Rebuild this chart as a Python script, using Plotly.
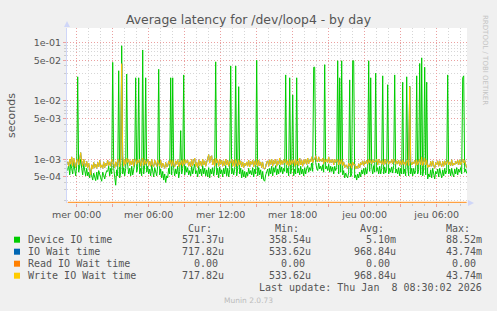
import numpy as np
import pandas as pd
import plotly.graph_objects as go

# ---------------- data (5-minute samples, microseconds) ----------------
start_time = "2026-01-06 23:15:00"

device_io_us = [
    640,820,540,860,690,560,900,650,520,780,26000,600,880,1000,700,540,820,620,520,700,
    520,600,480,640,500,440,580,520,430,600,450,640,520,480,420,600,540,460,560,640,
    620,760,520,700,560,46000,700,480,359,660,520,33000,480,600,88500,560,720,520,700,29000,
    800,560,700,520,760,540,680,820,25000,600,740,25000,560,700,520,75000,560,780,25000,600,
    760,560,680,520,800,560,500,720,620,520,760,35000,540,680,480,620,440,560,400,520,
    480,700,560,25000,540,25000,700,520,680,560,760,480,620,3100,560,700,28000,540,760,600,
    720,540,640,520,760,560,700,820,560,640,500,760,560,680,520,780,560,700,520,660,
    500,720,480,680,560,720,520,680,47000,540,700,480,740,560,660,500,700,560,780,520,
    700,500,660,40000,560,700,540,680,40000,520,700,17600,560,700,480,660,500,620,480,600,
    520,700,560,640,540,720,500,680,560,50000,520,720,540,660,460,620,440,420,540,620,
    680,520,700,560,760,520,720,600,780,540,680,560,800,600,740,560,700,620,28000,580,
    700,520,25000,560,700,12700,520,680,560,25000,580,700,540,760,560,680,520,720,560,700,
    780,600,720,640,860,620,38000,38000,880,700,640,860,680,760,640,800,600,42000,680,760,
    640,820,600,760,620,740,560,760,640,720,49000,560,25000,600,49000,540,640,480,580,520,
    480,600,23000,500,560,49000,49000,480,540,440,560,480,600,500,660,560,700,540,720,560,
    700,49000,620,25000,740,560,780,600,30000,620,720,560,760,560,700,27000,560,740,580,680,
    19000,560,700,600,740,580,780,28000,580,680,560,720,520,700,560,21000,560,680,520,26000,
    700,520,18000,560,700,520,700,560,640,27000,560,660,44000,540,55000,520,680,38000,540,21000,
    460,560,500,660,480,700,520,460,620,560,680,500,700,540,480,660,520,700,560,640,
    28000,560,680,520,700,560,500,680,560,720,540,680,600,720,560,25000,27000,600,680,571,
]

write_io_us = [
    900,760,1000,820,1100,760,1050,880,720,980,1000,800,1150,1300,900,760,1000,820,740,920,
    720,860,700,540,800,680,880,720,820,700,880,740,960,720,800,700,900,720,860,780,
    960,780,900,760,1000,980,820,720,900,760,980,1000,740,1000,43700,1100,760,1000,820,1050,
    880,1000,780,940,800,1000,760,980,1000,820,960,880,1000,760,940,1050,780,980,820,940,
    1000,780,920,760,1000,800,740,960,820,760,980,880,760,960,720,860,760,700,880,740,
    760,940,820,980,760,960,800,740,940,820,980,740,900,800,960,760,1000,820,980,860,
    960,760,900,740,1000,780,940,1050,760,880,720,980,780,920,760,1000,800,940,760,900,
    1100,1200,860,1100,1150,800,1000,760,1050,860,960,760,1000,820,960,760,940,780,1000,800,
    960,760,920,860,1000,760,960,740,1000,820,760,980,800,940,740,900,720,860,780,900,
    760,960,740,920,820,960,740,940,800,1000,760,960,780,900,720,880,700,680,740,900,
    940,760,980,820,1000,760,960,840,1000,760,940,820,1050,800,960,820,980,860,1000,800,
    940,760,1000,800,960,840,980,760,1000,800,940,780,1050,800,960,760,980,840,1000,820,
    1050,840,980,900,1100,880,1000,1000,1150,940,900,1100,920,1000,920,1050,840,1000,900,1000,
    880,1100,860,980,880,1000,800,1000,880,960,1000,800,980,820,1000,780,900,720,800,760,
    700,860,760,840,700,900,800,820,680,760,700,840,720,880,800,940,780,920,840,960,
    820,1000,880,960,840,980,880,940,900,1000,800,1000,860,940,820,960,800,1000,840,920,
    980,820,920,860,1000,840,1000,960,820,940,840,960,780,940,800,980,820,900,780,940,
    960,780,17600,920,800,900,840,960,780,980,800,900,1000,800,1100,780,940,1050,800,980,
    720,800,740,920,760,940,780,700,880,800,940,760,940,780,740,920,760,940,800,900,
    960,800,900,780,980,780,860,800,920,840,960,800,980,800,940,1000,860,960,800,718,
]

io_wait_us = list(write_io_us)          # IO Wait equals Write IO Wait
read_io_us = [0] * len(device_io_us)    # Read IO Wait is 0.00 throughout

legend_labels = ["Device IO time", "IO Wait time", "Read IO Wait time", "Write IO Wait time"]
legend_colors = ["#00CC00", "#0066B3", "#FF8000", "#FFCC00"]
cur_vals = ["571.37u", "717.82u", "0.00", "717.82u"]
min_vals = ["358.54u", "533.62u", "0.00", "533.62u"]
avg_vals = ["5.10m", "968.84u", "0.00", "968.84u"]
max_vals = ["88.52m", "43.74m", "0.00", "43.74m"]

x_tick_times = pd.date_range("2026-01-07 00:00", "2026-01-08 06:00", freq="3h")
x_tick_text = ["mer 00:00", "", "mer 06:00", "", "mer 12:00", "", "mer 18:00", "",
               "jeu 00:00", "", "jeu 06:00"]
y_tick_vals = [1e-1, 5e-2, 1e-2, 5e-3, 1e-3, 5e-4]
y_tick_text = ["1e-01", "5e-02", "1e-02", "5e-03", "1e-03", "5e-04"]

# ---------------- figure ----------------
W, H = 497, 311
L, R, T, B = 67, 467, 28, 203
y_range = [-3.75, -0.748]
x_range = ["2026-01-06 23:11:30", "2026-01-08 08:31:30"]

times = pd.date_range(start_time, periods=len(device_io_us), freq="5min")
to_s = lambda arr: np.array(arr, dtype=float) / 1e6
ymin = 10 ** y_range[0]

fig = go.Figure()
fig.add_trace(go.Scatter(x=times, y=to_s(device_io_us), mode="lines",
                         line=dict(color=legend_colors[0], width=1)))
fig.add_trace(go.Scatter(x=times, y=to_s(io_wait_us), mode="lines",
                         line=dict(color=legend_colors[1], width=1)))
# zero values are clamped to the bottom of the log scale, as rrdtool does
fig.add_trace(go.Scatter(x=times, y=np.maximum(to_s(read_io_us), ymin), mode="lines",
                         line=dict(color=legend_colors[2], width=2.4), opacity=0.75))
fig.add_trace(go.Scatter(x=times, y=to_s(write_io_us), mode="lines",
                         line=dict(color=legend_colors[3], width=1)))

major_grid = "#EBA0A0"
minor_grid = "#D6D6D6"
axis_col = "#CFD6F8"
txt_col = "#555555"
dash = "1px,2px"

fig.update_xaxes(
    type="date", range=x_range,
    tickmode="array", tickvals=x_tick_times, ticktext=x_tick_text,
    showgrid=True, gridcolor=major_grid, griddash=dash, gridwidth=1,
    ticks="outside", ticklen=3, tickcolor=major_grid,
    minor=dict(dtick=3600000, tick0="2026-01-07 00:00", showgrid=True,
               gridcolor=minor_grid, griddash=dash, ticks="outside", ticklen=2,
               tickcolor="#CCCCCC"),
    showline=False,
    tickfont=dict(family="DejaVu Sans", size=9.5, color=txt_col),
    zeroline=False, fixedrange=True,
)
minor_log = [m * 10.0 ** e for e in range(-4, 0) for m in (2, 3, 4, 6, 7, 8, 9)]
fig.update_yaxes(
    type="log", range=y_range,
    tickmode="array", tickvals=y_tick_vals, ticktext=y_tick_text,
    showgrid=True, gridcolor=major_grid, griddash=dash, gridwidth=1,
    ticks="outside", ticklen=3, tickcolor=major_grid,
    minor=dict(tickmode="array", tickvals=minor_log, showgrid=True,
               gridcolor=minor_grid, griddash=dash, ticks="outside", ticklen=2,
               tickcolor="#CCCCCC"),
    showline=True, linecolor=axis_col, linewidth=1,
    tickfont=dict(family="DejaVu Sans", size=9.5, color=txt_col),
    zeroline=False, fixedrange=True,
)

def ax(x):
    return (x - L) / (R - L)

def ay(y):
    return (B - y) / (B - T)

ann = []
shapes = []

def text(x, y, s, size, family="DejaVu Sans", color=txt_col, xanchor="left", angle=0):
    ann.append(dict(x=ax(x), y=ay(y), xref="paper", yref="paper", text=s, showarrow=False,
                    xanchor=xanchor, yanchor="middle", textangle=angle, borderpad=0,
                    font=dict(family=family, size=size, color=color)))

text(248, 20, "Average latency for /dev/loop4 - by day", 12.4, xanchor="center")
text(11, 115, "seconds", 11, xanchor="center", angle=-90)
text(485, 60, "RRDTOOL / TOBI OETIKER", 7, color="#C4C4C4", xanchor="center", angle=90)

mono = "DejaVu Sans Mono"
col_right = [225, 311.7, 396.7, 482.7]
headers = ["Cur:", "Min:", "Avg:", "Max:"]
for cr, h in zip(col_right, headers):
    text(cr - 12, 228.3, h, 10, family=mono, xanchor="right")
row_y = [239.7, 251.7, 263.7, 275.7]
for i, lab in enumerate(legend_labels):
    y = row_y[i]
    shapes.append(dict(type="rect", xref="paper", yref="paper",
                       x0=ax(14), x1=ax(20), y0=ay(y + 3), y1=ay(y - 3),
                       fillcolor=legend_colors[i], line=dict(width=0), layer="above"))
    text(26.5, y, lab, 10, family=mono)
    for cr, vals in zip(col_right, [cur_vals, min_vals, avg_vals, max_vals]):
        v = vals[i]
        shift = 0 if v[-1].isalpha() else 6
        text(cr - shift, y, v, 10, family=mono, xanchor="right")
text(482.7, 287.3, "Last update: Thu Jan  8 08:30:02 2026".replace("  ", "\u00a0 "), 10,
     family=mono, xanchor="right")
text(248, 300.5, "Munin 2.0.73", 7.5, color="#BBBBBB", xanchor="center")

# axis arrows
shapes.append(dict(type="path", xref="paper", yref="paper", layer="above",
                   path=f"M {ax(64)} {ay(27)} L {ax(70)} {ay(27)} L {ax(67)} {ay(21)} Z",
                   fillcolor=axis_col, line=dict(width=0)))
shapes.append(dict(type="path", xref="paper", yref="paper", layer="above",
                   path=f"M {ax(468)} {ay(200)} L {ax(468)} {ay(206)} L {ax(474)} {ay(203)} Z",
                   fillcolor=axis_col, line=dict(width=0)))

fig.update_layout(
    width=W, height=H,
    margin=dict(l=L, r=W - R, t=T, b=H - B, pad=0),
    paper_bgcolor="#F0F0F0", plot_bgcolor="#FFFFFF",
    showlegend=False, hovermode=False,
    annotations=ann, shapes=shapes,
)

fig.write_html("out.html", config={"displayModeBar": False, "staticPlot": True})
